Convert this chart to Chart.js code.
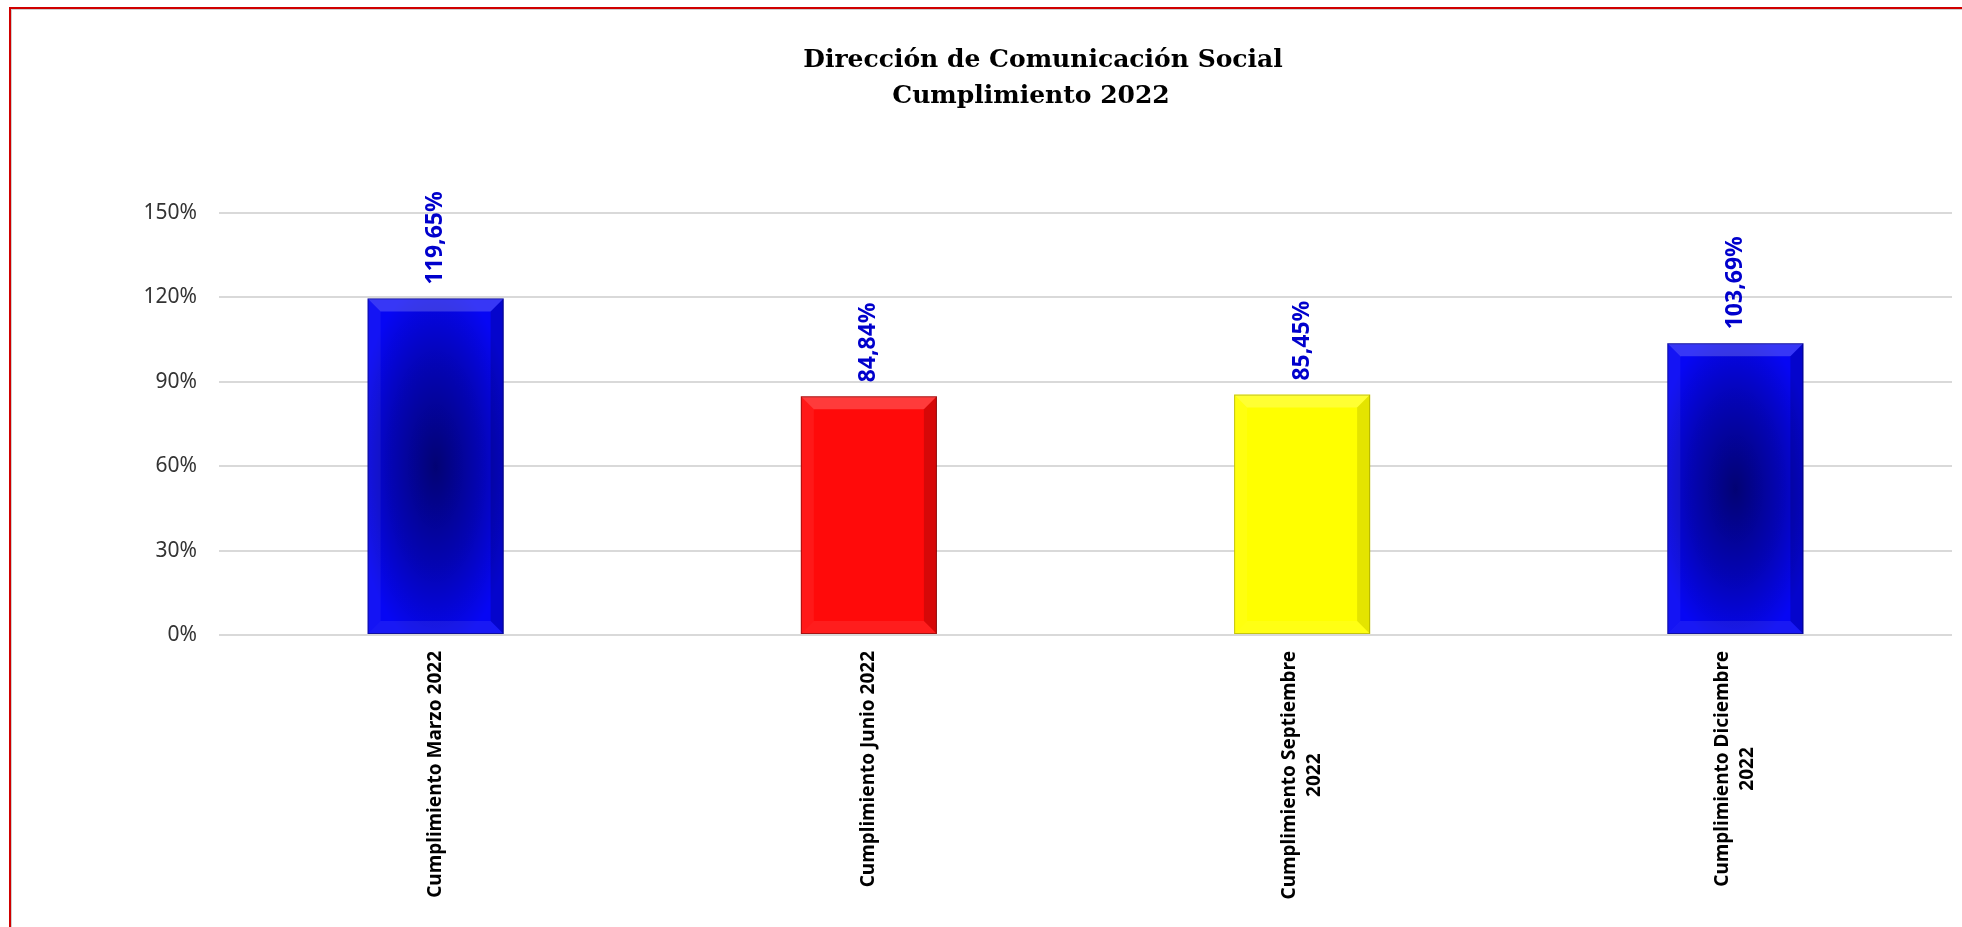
<!DOCTYPE html>
<html>
<head>
<meta charset="utf-8">
<script src="https://cdn.jsdelivr.net/npm/chart.js@4.4.0/dist/chart.umd.min.js"></script>
<style>
  html, body { margin: 0; padding: 0; background: #fff; overflow: hidden; }
  #wrap { position: relative; width: 1962px; height: 927px; overflow: hidden; }
  #frame { position: absolute; left: 9px; top: 7px; width: 2100px; height: 1100px; border: 2px solid #d00000; box-shadow: inset 1px 1px 0 #cfcfcf; }
  canvas { position: absolute; left: 0; top: 0; }
</style>
</head>
<body>
<div id="wrap">
  <div id="frame"></div>
  <canvas id="myChart" width="1962" height="927"></canvas>
</div>
<script>
const TITLE_LINES = ['Dirección de Comunicación Social', 'Cumplimiento 2022'];
const CATEGORIES = [
  ['Cumplimiento Marzo 2022'],
  ['Cumplimiento Junio 2022'],
  ['Cumplimiento Septiembre', '2022'],
  ['Cumplimiento Diciembre', '2022'],
];
const CUMPLIMIENTO = [119.65, 84.84, 85.45, 103.69];
const BAR_COLORS = ['#0606f4', '#ff0a0a', '#ffff00', '#0606f4'];
const Y_TICKS = [0, 30, 60, 90, 120, 150];

const ctx = document.getElementById('myChart').getContext('2d');

function fmtPct(v) {
  return v.toFixed(2).replace('.', ',') + '%';
}

// title drawn by hand so it can sit off-centre like the original
const titlePlugin = {
  id: 'titleText',
  afterDraw(chart) {
    const c = chart.ctx;
    c.save();
    c.font = 'bold 25px "DejaVu Serif"';
    c.fillStyle = '#000';
    c.textAlign = 'center';
    c.textBaseline = 'alphabetic';
    c.fillText(TITLE_LINES[0], 1043, 67);
    c.fillText(TITLE_LINES[1], 1031, 103);
    c.restore();
  },
};

// bevel / shading on bars + vertical value labels
const barDeco = {
  id: 'barDeco',
  afterDatasetsDraw(chart) {
    const c = chart.ctx;
    const meta = chart.getDatasetMeta(0);
    meta.data.forEach((bar, i) => {
      const w = bar.width;
      const l = bar.x - w / 2, r = bar.x + w / 2;
      const t = bar.y, b = bar.base;
      const h = b - t;
      const bv = 13;
      c.save();
      if (BAR_COLORS[i] === '#0606f4') {
        c.save();
        c.beginPath();
        c.rect(l, t, w, h);
        c.clip();
        c.translate(bar.x, t + h * 0.5);
        c.scale(w * 0.6, h * 0.55);
        const g = c.createRadialGradient(0, 0, 0, 0, 0, 1);
        g.addColorStop(0, 'rgba(0,0,30,0.6)');
        g.addColorStop(0.55, 'rgba(0,0,30,0.3)');
        g.addColorStop(1, 'rgba(0,0,30,0)');
        c.fillStyle = g;
        c.fillRect(-2, -2, 4, 4);
        c.restore();
      }
      const dark = BAR_COLORS[i] === '#ffff00' ? 'rgba(90,90,0,' : 'rgba(0,0,0,';
      // top
      c.fillStyle = 'rgba(255,255,255,0.2)';
      c.beginPath();
      c.moveTo(l, t); c.lineTo(r, t); c.lineTo(r - bv, t + bv); c.lineTo(l + bv, t + bv); c.closePath();
      c.fill();
      // left
      c.fillStyle = 'rgba(255,255,255,0.06)';
      c.beginPath();
      c.moveTo(l, t); c.lineTo(l + bv, t + bv); c.lineTo(l + bv, b - bv); c.lineTo(l, b); c.closePath();
      c.fill();
      // right
      c.fillStyle = dark + '0.16)';
      c.beginPath();
      c.moveTo(r, t); c.lineTo(r - bv, t + bv); c.lineTo(r - bv, b - bv); c.lineTo(r, b); c.closePath();
      c.fill();
      // bottom
      c.fillStyle = 'rgba(255,255,255,0.08)';
      c.beginPath();
      c.moveTo(l, b); c.lineTo(l + bv, b - bv); c.lineTo(r - bv, b - bv); c.lineTo(r, b); c.closePath();
      c.fill();
      c.strokeStyle = dark + '0.35)';
      c.lineWidth = 1;
      c.strokeRect(l + 0.5, t + 0.5, w - 1, h - 1);
      c.restore();

      // value label
      c.save();
      c.translate(bar.x, t - 14);
      c.rotate(-Math.PI / 2);
      c.font = 'bold 23px "Noto Sans"';
      c.fillStyle = '#0000cc';
      c.textAlign = 'left';
      c.textBaseline = 'middle';
      c.fillText(fmtPct(CUMPLIMIENTO[i]), 0, 0);
      c.restore();
    });
  },
  afterDraw(chart) {
    // category labels, rotated, lines centred inside the block
    const c = chart.ctx;
    const xs = chart.scales.x;
    c.save();
    c.font = 'bold 19px "Noto Sans"';
    c.fillStyle = '#000';
    c.textAlign = 'center';
    c.textBaseline = 'middle';
    const lh = 25;
    CATEGORIES.forEach((lines, i) => {
      const x = xs.getPixelForValue(i);
      const maxW = Math.max(...lines.map(s => c.measureText(s).width));
      c.save();
      c.translate(x, xs.top + 16);
      c.rotate(-Math.PI / 2);
      lines.forEach((s, j) => {
        c.fillText(s, -maxW / 2, (j - (lines.length - 1) / 2) * lh);
      });
      c.restore();
    });
    c.restore();
  },
};

new Chart(ctx, {
  type: 'bar',
  data: {
    labels: CATEGORIES,
    datasets: [{
      label: 'Cumplimiento',
      data: CUMPLIMIENTO,
      backgroundColor: BAR_COLORS,
      borderWidth: 0,
      categoryPercentage: 1,
      barPercentage: 0.314,
    }],
  },
  options: {
    responsive: false,
    animation: false,
    layout: { padding: { top: 213, right: 10, bottom: 0, left: 0 } },
    plugins: {
      legend: { display: false },
      tooltip: { enabled: false },
      title: { display: false },
    },
    scales: {
      x: {
        grid: { display: false },
        border: { display: false },
        ticks: { display: false },
        afterFit(scale) { scale.height = 292; },
      },
      y: {
        min: Y_TICKS[0],
        max: Y_TICKS[Y_TICKS.length - 1],
        border: { display: false },
        grid: { color: '#d9d9d9', lineWidth: 2, drawTicks: false },
        ticks: {
          stepSize: Y_TICKS[1] - Y_TICKS[0],
          padding: 22,
          color: '#333333',
          font: { family: 'Noto Sans', size: 21 },
          callback: v => v + '%',
        },
        afterFit(scale) { scale.width = 219; },
      },
    },
  },
  plugins: [titlePlugin, barDeco],
});
</script>
</body>
</html>
